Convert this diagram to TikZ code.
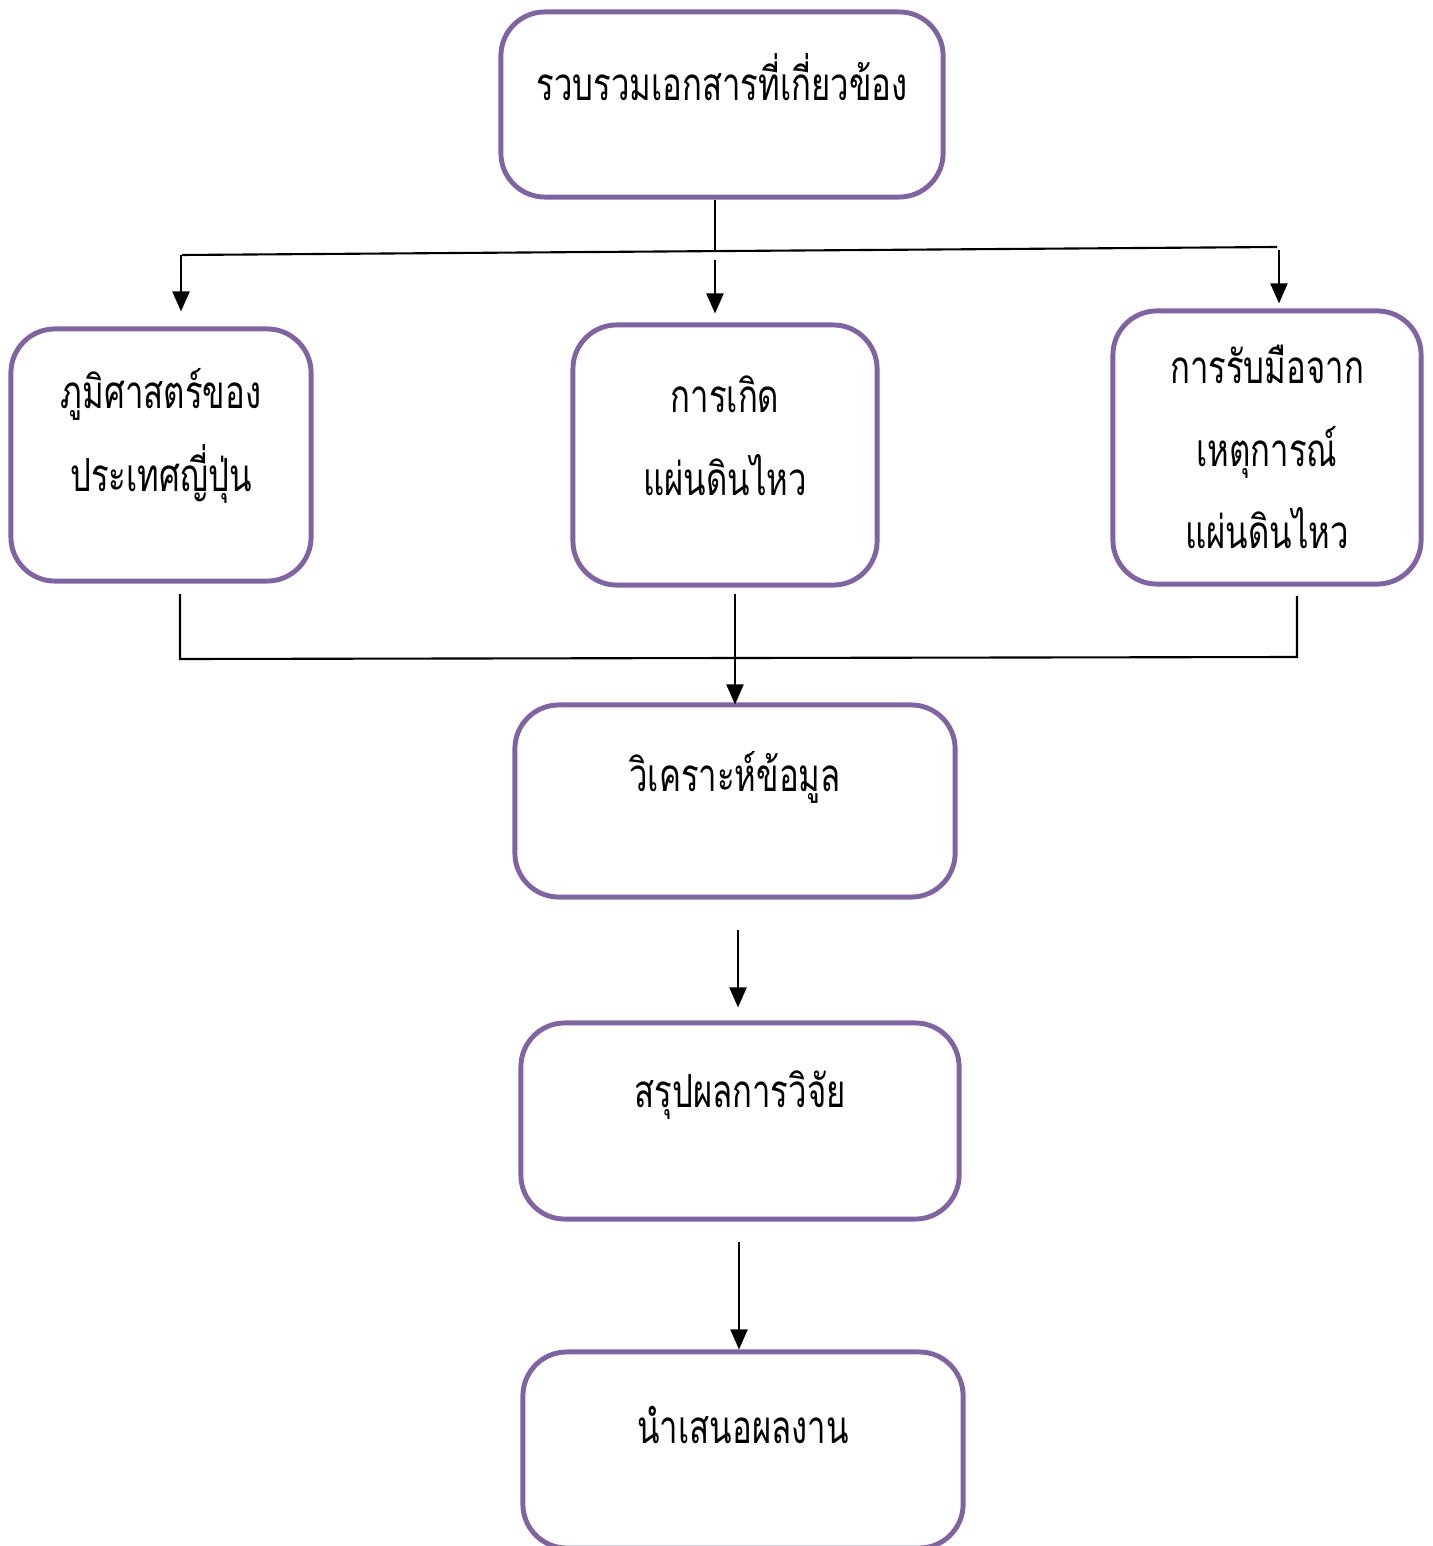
\documentclass[tikz,border=0pt]{standalone}
\usepackage{fontspec}
\newfontfamily\thaifont[Script=Thai,FakeStretch=0.72]{Loma}
\usetikzlibrary{arrows.meta}
\definecolor{boxpurple}{HTML}{8064A2}
\tikzset{
  stepbox/.style 2 args={draw=boxpurple, line width=1.4pt, rounded corners=12.5pt,
    minimum width=#1, minimum height=#2},
  steptext/.style={font=\thaifont\fontsize{13}{23.5}\selectfont, align=center},
  link/.style={line width=0.6pt},
  arr/.style={line width=0.6pt, -{Triangle[length=2mm,width=1.7mm]}}
}
\begin{document}
\begin{tikzpicture}[x=0.01cm, y=-0.01cm]
    \useasboundingbox (0,0) rectangle (1432,1546);

    % Boxes
    \node[stepbox={4.42cm}{1.85cm}] (gather) at (722,104.5) {};
    \node[stepbox={3.00cm}{2.52cm}] (geo) at (161,455) {};
    \node[stepbox={3.04cm}{2.60cm}] (quake) at (725,455) {};
    \node[stepbox={3.08cm}{2.73cm}] (resp) at (1267,447.5) {};
    \node[stepbox={4.40cm}{1.92cm}] (anal) at (735,801) {};
    \node[stepbox={4.38cm}{1.96cm}] (concl) at (740,1121) {};
    \node[stepbox={4.40cm}{1.96cm}] (pres) at (743,1450) {};

    % Texts
    \node[steptext] (tgather) at (722,77) {รวบรวมเอกสารที่เกี่ยวข้อง};
    \node[steptext] (tgeo) at (161,436) {ภูมิศาสตร์ของ\\ประเทศญี่ปุ่น};
    \node[steptext] (tquake) at (725,436) {การเกิด\\แผ่นดินไหว};
    \node[steptext] (tresp) at (1267,447) {การรับมือจาก\\เหตุการณ์\\แผ่นดินไหว};
    \node[steptext] (tanal) at (735,777) {วิเคราะห์ข้อมูล};
    \node[steptext] (tconcl) at (740,1095) {สรุปผลการวิจัย};
    \node[steptext] (tpres) at (743,1425) {นำเสนอผลงาน};

    % Fork at the top
    \coordinate (jt) at (715,251);
    \coordinate (tl) at (182,255);
    \coordinate (tr) at (1277,247);
    \coordinate (al) at (181,255);
    \coordinate (am) at (715,260);
    \coordinate (ar) at (1279,250);
    \draw[link] (gather.south -| jt) -- (jt);
    \draw[link] (tl) -- (tr);
    \draw[arr, shorten >=0.15cm] (al) -- (al |- geo.north);
    \draw[arr, shorten >=0.09cm] (am) -- (am |- quake.north);
    \draw[arr, shorten >=0.05cm] (ar) -- (ar |- resp.north);

    % Join at the bottom
    \coordinate (bl) at (180,594);
    \coordinate (cl) at (180,659);
    \coordinate (cr) at (1297,657);
    \coordinate (br) at (1297,596);
    \coordinate (bm) at (735,594);
    \draw[link] (bl) -- (cl) -- (cr) -- (br);
    \draw[arr, shorten >=-0.02cm] (bm) -- (bm |- anal.north);

    % Lower steps
    \coordinate (ac) at (738,930);
    \coordinate (cp) at (739,1242);
    \draw[arr, shorten >=0.13cm] (ac) -- (ac |- concl.north);
    \draw[arr, shorten >=0cm] (cp) -- (cp |- pres.north);
\end{tikzpicture}
\end{document}
